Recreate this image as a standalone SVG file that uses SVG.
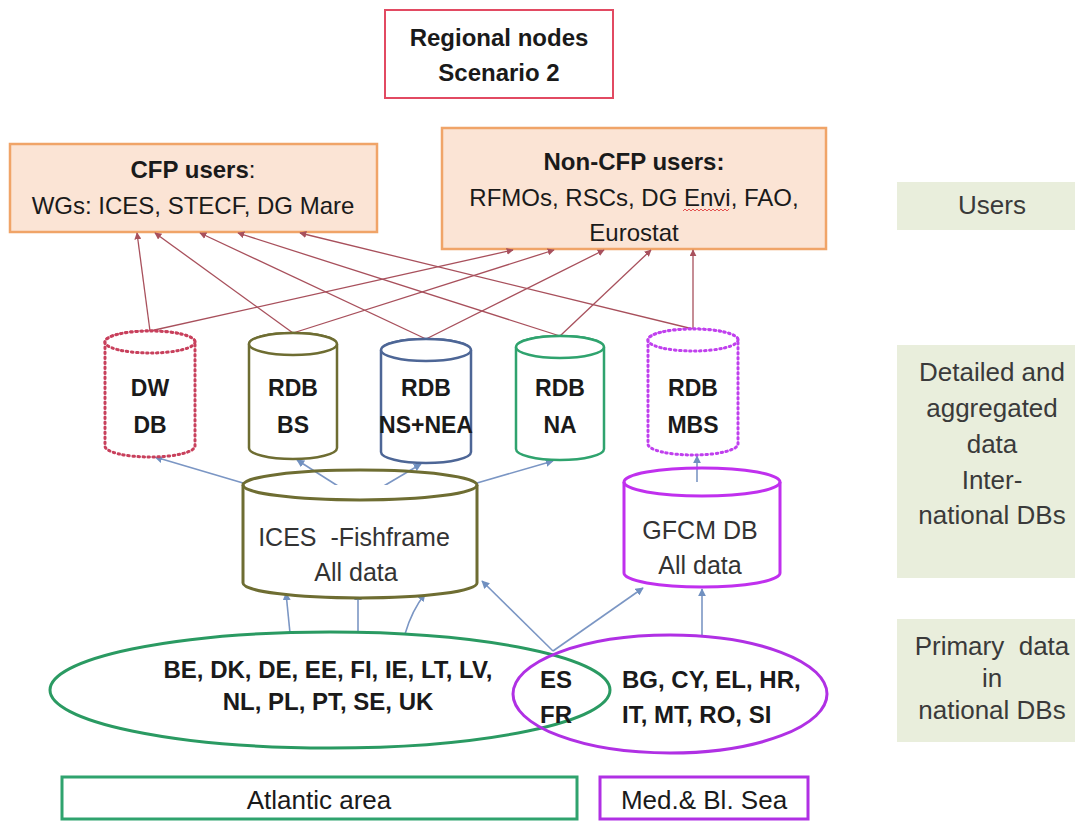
<svg xmlns="http://www.w3.org/2000/svg" width="1081" height="821" viewBox="0 0 1081 821">
<defs>
<marker id="ar" viewBox="0 0 10 10" refX="9" refY="5" markerWidth="7" markerHeight="7" markerUnits="userSpaceOnUse" orient="auto"><path d="M0,0 L10,5 L0,10 Z" fill="#a8505c"/></marker>
<marker id="ab" viewBox="0 0 10 10" refX="9" refY="5" markerWidth="8" markerHeight="8" markerUnits="userSpaceOnUse" orient="auto"><path d="M0,0 L10,5 L0,10 Z" fill="#7090c0"/></marker>
</defs>
<style>
text{font-family:"Liberation Sans",Arial,sans-serif;fill:#1a1a1a;text-anchor:middle}
.b{font-weight:bold}
.lbl{fill:#e9eedc}
.lt{font-size:26px;fill:#3a3a3a}
.user{fill:#fbe4d5;stroke:#f0a468;stroke-width:2.5}
.red{stroke:#a8505c;stroke-width:1.3;fill:none;marker-end:url(#ar)}
.blue{stroke:#7b96c4;stroke-width:1.6;fill:none;marker-end:url(#ab)}
.cyl{fill:#fff;stroke-width:2.5}
.dot{stroke-dasharray:1.5 3.5;stroke-linecap:round;stroke-width:3}
.ct{font-size:23px;font-weight:bold}
.dt{font-size:25px;fill:#333}
.ctry{font-size:24px;font-weight:bold}
</style>
<rect width="1081" height="821" fill="#fff"/>

<g id="title">
<rect x="385" y="10" width="228" height="88" fill="#fff" stroke="#e24a62" stroke-width="2"/>
<text x="499" y="46" class="b" font-size="24">Regional nodes</text>
<text x="499" y="81" class="b" font-size="24">Scenario 2</text>
</g>

<g id="cfp-users">
<rect x="10" y="144" width="367" height="88" class="user"/>
<text x="193" y="178" font-size="24"><tspan class="b">CFP users</tspan>:</text>
<text x="193" y="214" font-size="24">WGs: ICES, STECF, DG Mare</text>
</g>

<g id="noncfp-users">
<rect x="442" y="128" width="384" height="121" class="user"/>
<text x="634" y="170" font-size="24" class="b">Non-CFP users:</text>
<text x="634" y="206" font-size="24">RFMOs, RSCs, DG Envi, FAO,</text>
<path d="M683,211 l2,-2 l2,2 l2,-2 l2,2 l2,-2 l2,2 l2,-2 l2,2 l2,-2 l2,2 l2,-2 l2,2 l2,-2 l2,2 l2,-2 l2,2 l2,-2 l2,2 l2,-2 l2,2 l2,-2 l2,2 l2,-2" fill="none" stroke="#e04040" stroke-width="0.9"/>
<text x="634" y="241" font-size="24">Eurostat</text>
</g>

<g id="label-users">
<rect x="897" y="182" width="178" height="48" class="lbl"/>
<text x="992" y="214" class="lt">Users</text>
</g>
<g id="label-detailed">
<rect x="897" y="345" width="178" height="233" class="lbl"/>
<text x="992" y="381" class="lt">Detailed and</text>
<text x="992" y="417" class="lt">aggregated</text>
<text x="992" y="453" class="lt">data</text>
<text x="992" y="489" class="lt">Inter-</text>
<text x="992" y="524" class="lt">national DBs</text>
</g>
<g id="label-primary">
<rect x="897" y="619" width="178" height="123" class="lbl"/>
<text x="992" y="655" class="lt" xml:space="preserve">Primary  data</text>
<text x="992" y="687" class="lt">in</text>
<text x="992" y="719" class="lt">national DBs</text>
</g>

<g id="connectors">
<line x1="150" y1="331" x2="137" y2="233" class="red"/>
<line x1="293" y1="333" x2="155" y2="233" class="red"/>
<line x1="426" y1="339" x2="200" y2="233" class="red"/>
<line x1="560" y1="336" x2="238" y2="233" class="red"/>
<line x1="693" y1="329" x2="300" y2="233" class="red"/>
<line x1="150" y1="331" x2="513" y2="250" class="red"/>
<line x1="293" y1="333" x2="554" y2="250" class="red"/>
<line x1="426" y1="339" x2="604" y2="250" class="red"/>
<line x1="560" y1="336" x2="651" y2="250" class="red"/>
<line x1="693" y1="329" x2="693" y2="250" class="red"/>

<line x1="243" y1="483" x2="155" y2="457" class="blue"/>
<line x1="360" y1="500" x2="297" y2="460" class="blue"/>
<line x1="360" y1="500" x2="421" y2="464" class="blue"/>
<line x1="477" y1="483" x2="553" y2="461" class="blue"/>
<line x1="697" y1="496" x2="697" y2="456" class="blue"/>

<line x1="290" y1="633" x2="286" y2="593" class="blue"/>
<line x1="358" y1="633" x2="358" y2="593" class="blue"/>
<path d="M405,634 Q412,610 425,594" class="blue"/>
<line x1="553" y1="651" x2="482" y2="581" class="blue"/>
<line x1="553" y1="651" x2="643" y2="588" class="blue"/>
<line x1="702" y1="635" x2="702" y2="589" class="blue"/>
</g>

<g id="dw-db">
<path d="M105,342 L105,446 A45,11 0 0 0 195,446 L195,342 A45,11 0 0 0 105,342 Z" class="cyl dot" stroke="#c8405c"/>
<ellipse cx="150" cy="342" rx="45" ry="11" class="cyl dot" stroke="#c8405c" fill="none"/>
<text x="150" y="396" class="ct">DW</text>
<text x="150" y="433" class="ct">DB</text>
</g>
<g id="rdb-bs">
<path d="M249,344 L249,448 A44,11 0 0 0 337,448 L337,344 A44,11 0 0 0 249,344 Z" class="cyl" stroke="#6e6d32"/>
<ellipse cx="293" cy="344" rx="44" ry="11" class="cyl" stroke="#6e6d32" fill="none"/>
<text x="293" y="396" class="ct">RDB</text>
<text x="293" y="433" class="ct">BS</text>
</g>
<g id="rdb-nsnea">
<path d="M381,350 L381,452 A45,11 0 0 0 471,452 L471,350 A45,11 0 0 0 381,350 Z" class="cyl" stroke="#4d6696"/>
<ellipse cx="426" cy="350" rx="45" ry="11" class="cyl" stroke="#4d6696" fill="none"/>
<text x="426" y="396" class="ct">RDB</text>
<text x="426" y="433" class="ct">NS+NEA</text>
</g>
<g id="rdb-na">
<path d="M516,347 L516,449 A44,11 0 0 0 604,449 L604,347 A44,11 0 0 0 516,347 Z" class="cyl" stroke="#2fa36e"/>
<ellipse cx="560" cy="347" rx="44" ry="11" class="cyl" stroke="#2fa36e" fill="none"/>
<text x="560" y="396" class="ct">RDB</text>
<text x="560" y="433" class="ct">NA</text>
</g>
<g id="rdb-mbs">
<path d="M648,340 L648,444 A45,11 0 0 0 738,444 L738,340 A45,11 0 0 0 648,340 Z" class="cyl dot" stroke="#c040ee"/>
<ellipse cx="693" cy="340" rx="45" ry="11" class="cyl dot" stroke="#c040ee" fill="none"/>
<text x="693" y="396" class="ct">RDB</text>
<text x="693" y="433" class="ct">MBS</text>
</g>

<g id="ices-fishframe">
<path d="M243,485 L243,583 A117,15 0 0 0 477,583 L477,485" fill="#fff" stroke="#6e6d32" stroke-width="3"/>
<ellipse cx="360" cy="485" rx="117" ry="15" fill="none" stroke="#6e6d32" stroke-width="3"/>
<text x="354" y="546" class="dt" xml:space="preserve">ICES  -Fishframe</text>
<text x="356" y="581" class="dt">All data</text>
</g>
<g id="gfcm-db">
<path d="M624,482 L624,573 A78,14 0 0 0 780,573 L780,482" fill="#fff" stroke="#c030ee" stroke-width="3"/>
<ellipse cx="702" cy="482" rx="78" ry="14" fill="none" stroke="#c030ee" stroke-width="3"/>
<text x="700" y="539" class="dt">GFCM DB</text>
<text x="700" y="574" class="dt">All data</text>
</g>

<g id="atlantic-countries">
<ellipse cx="330" cy="690" rx="280" ry="58" fill="none" stroke="#2a9a62" stroke-width="3"/>
<text x="328" y="678" class="ctry">BE, DK, DE, EE, FI, IE, LT, LV,</text>
<text x="328" y="710" class="ctry">NL, PL, PT, SE, UK</text>
</g>
<g id="med-countries">
<ellipse cx="670" cy="694" rx="157" ry="59" fill="none" stroke="#b030e4" stroke-width="3"/>
<text x="622" y="688" class="ctry" style="text-anchor:start">BG, CY, EL, HR,</text>
<text x="622" y="723" class="ctry" style="text-anchor:start">IT, MT, RO, SI</text>
</g>
<g id="es-fr">
<text x="556" y="688" class="ctry">ES</text>
<text x="556" y="723" class="ctry">FR</text>
</g>

<g id="atlantic-area">
<rect x="62" y="777" width="515" height="42" fill="#fff" stroke="#2fa36e" stroke-width="3"/>
<text x="319" y="809" font-size="26" fill="#333">Atlantic area</text>
</g>
<g id="med-bl-sea">
<rect x="600" y="777" width="208" height="42" fill="#fff" stroke="#b030e4" stroke-width="3"/>
<text x="704" y="809" font-size="26" fill="#333">Med.&amp; Bl. Sea</text>
</g>
</svg>
